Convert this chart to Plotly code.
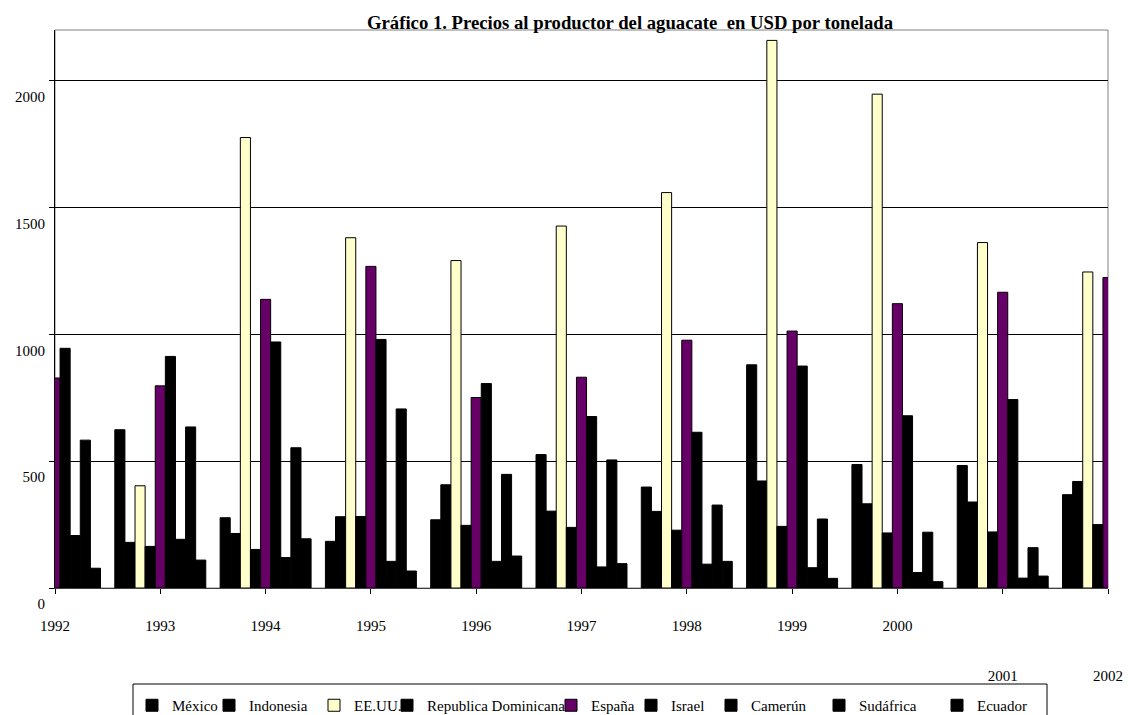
import plotly.graph_objects as go

years = ["1992", "1993", "1994", "1995", "1996", "1997", "1998", "1999", "2000", "2001", "2002"]
year_labels = ["1992", "1993", "1994", "1995", "1996", "1997", "1998", "1999", "2000",
               "<br><br><br>2001", "<br><br><br>2002"]

mexico    = [None, 624, 277, 184, 269, 526, 398, 880, 487, 483, 368]
indonesia = [None, 180, 215, 281, 407, 303, 302, 422, 332, 339, 420]
eeuu      = [None, 403, 1776, 1381, 1291, 1427, 1559, 2159, 1947, 1362, 1246]
rep_dom   = [None, 164, 152, 282, 247, 239, 228, 243, 217, 221, 250]
espana    = [828, 797, 1138, 1268, 751, 831, 977, 1013, 1121, 1166, 1224]
israel    = [945, 913, 970, 980, 806, 676, 614, 875, 679, 743, None]
camerun   = [207, 192, 120, 105, 105, 83, 94, 80, 61, 39, None]
sudafrica = [583, 635, 553, 706, 448, 505, 327, 272, 220, 159, None]
ecuador   = [78, 110, 194, 67, 126, 96, 105, 38, 25, 47, None]

series_names = ["México", "Indonesia", "EE.UU.", "Republica Dominicana", "España",
                "Israel", "Camerún", "Sudáfrica", "Ecuador"]
series_values = [mexico, indonesia, eeuu, rep_dom, espana, israel, camerun, sudafrica, ecuador]
series_colors = ["#000000", "#000000", "#FFFFCC", "#000000", "#660066",
                 "#000000", "#000000", "#000000", "#000000"]
# pixel x where each legend label's text starts in the reference's legend row
legend_text_x = [173, 250, 355, 428, 592, 672, 752, 860, 978]

FONT = "Liberation Serif, Times New Roman, serif"
W, H = 1133, 715
ML, MR, MT, MB = 55, 25, 30, 127
PW, PH = W - ML - MR, H - MT - MB

fig = go.Figure()
legend_layouts = {}
for i, (name, vals, col) in enumerate(zip(series_names, series_values, series_colors)):
    lg = "legend" if i == 0 else f"legend{i + 1}"
    fig.add_trace(go.Bar(
        x=years, y=vals, name=name, legend=lg,
        marker=dict(color=col, line=dict(color="#000000", width=1)),
        cliponaxis=False,
    ))
    legend_layouts[lg] = dict(
        orientation="h",
        xref="container", x=(legend_text_x[i] - 41) / W, xanchor="left",
        yref="container", y=1 - 689 / H, yanchor="top",
        borderwidth=0, bgcolor="rgba(0,0,0,0)",
        font=dict(family=FONT, size=15, color="#000000"),
        itemwidth=30,
    )

fig.update_layout(
    width=W, height=H,
    margin=dict(l=ML, r=MR, t=MT, b=MB, autoexpand=False),
    paper_bgcolor="white", plot_bgcolor="white",
    barmode="group", bargap=0.136, bargroupgap=0,
    font=dict(family=FONT, size=15, color="#000000"),
    title=dict(
        text="<b>Gráfico 1. Precios al productor del aguacate  en USD por tonelada</b>",
        x=630 / W, xref="container", xanchor="center",
        y=1 - 22 / H, yref="container", yanchor="middle",
        font=dict(family=FONT, size=18.7, color="#000000"),
    ),
    showlegend=True,
    shapes=[
        dict(type="rect", xref="paper", yref="paper", x0=0, x1=1, y0=0, y1=1,
             line=dict(color="#808080", width=1), layer="between"),
        dict(type="rect", xref="paper", yref="paper",
             x0=(133 - ML) / PW, x1=(1047 - ML) / PW,
             y0=(MT + PH - 740) / PH, y1=(MT + PH - 684) / PH,
             line=dict(color="#000000", width=1), fillcolor="rgba(0,0,0,0)", layer="above"),
    ],
    **legend_layouts,
)

fig.update_xaxes(
    type="category", range=[0, 10], automargin=False,
    tickmode="array", tickvals=years,
    ticktext=['<span style="font-size:15px">' + t + '</span>' for t in year_labels],
    showgrid=False, showline=True, linecolor="#404040", linewidth=1,
    ticks="outside", ticklen=5, tickcolor="#000000",
    tickfont=dict(family=FONT, size=13, color="#000000"),
    ticklabelstandoff=21,
)
fig.update_yaxes(
    range=[0, 2200], tick0=0, dtick=500, automargin=False,
    showgrid=True, gridcolor="#000000", gridwidth=1,
    zeroline=False,
    showline=True, linecolor="#000000", linewidth=1,
    ticks="outside", ticklen=5, tickcolor="#000000",
    tickfont=dict(family=FONT, size=15, color="#000000"),
    ticklabelshift=16, ticklabelstandoff=1,
)

fig.write_html("out.html", config={"displayModeBar": False},
               post_script="document.body.style.margin='0px';")
